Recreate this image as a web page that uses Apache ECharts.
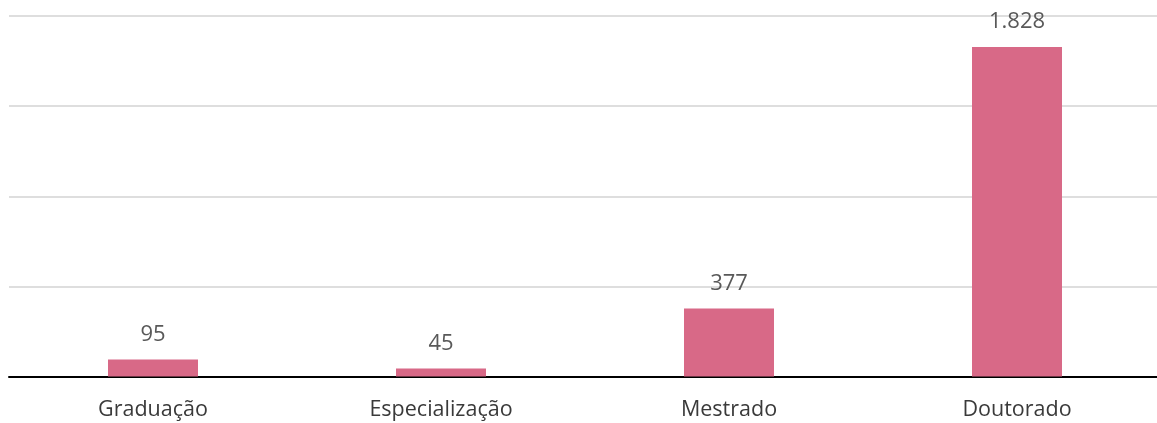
<!DOCTYPE html>
<html>
<head>
<meta charset="utf-8">
<script src="https://cdn.jsdelivr.net/npm/echarts@6/dist/echarts.min.js"></script>
<style>
  html, body { margin: 0; padding: 0; background: #ffffff; }
  #chart { width: 1157px; height: 423px; }
</style>
</head>
<body>
<div id="chart"></div>
<script>
// Titulação: número de pessoas por nível
const categories = ['Graduação', 'Especialização', 'Mestrado', 'Doutorado'];
const values = [95, 45, 377, 1828];
const axisMin = 0;
const axisMax = 2000;
const axisStep = 500;

// Separador de milhar no padrão brasileiro (1.828)
function formatBR(v) {
  return String(v).replace(/\B(?=(\d{3})+(?!\d))/g, '.');
}

const chart = echarts.init(document.getElementById('chart'), null, { renderer: 'canvas' });

chart.setOption({
  animation: false,
  backgroundColor: '#ffffff',
  grid: {
    left: 9, width: 1152, top: 16, bottom: 46.5,
    containLabel: false,
    outerBoundsMode: 'none'
  },
  xAxis: {
    type: 'category',
    data: categories,
    axisLine: { show: true, lineStyle: { color: '#000000', width: 2 } },
    axisTick: { show: false },
    axisLabel: {
      margin: 22,
      color: '#3a3a3a',
      fontFamily: 'Open Sans',
      fontSize: 21.5
    },
    splitLine: { show: false }
  },
  yAxis: {
    type: 'value',
    min: axisMin,
    max: axisMax,
    interval: axisStep,
    axisLine: { show: false },
    axisTick: { show: false },
    axisLabel: { show: false },
    splitLine: { show: true, lineStyle: { color: '#dedede', width: 2 } }
  },
  series: [{
    type: 'bar',
    data: values,
    barWidth: 90,
    itemStyle: { color: '#D86987' },
    label: {
      show: true,
      position: 'top',
      distance: 14,
      color: '#595959',
      fontFamily: 'Open Sans',
      fontSize: 22,
      formatter: (p) => formatBR(p.value)
    }
  }]
});
</script>
</body>
</html>
